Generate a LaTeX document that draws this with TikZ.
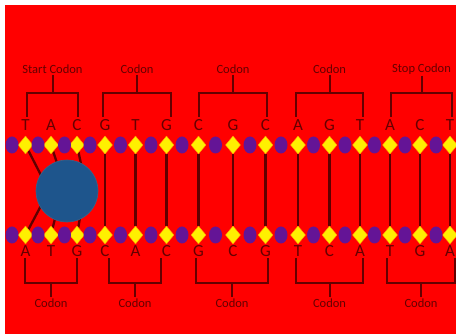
\documentclass[tikz,border=0pt]{standalone}
\usepackage{fontspec}
\setmainfont{Carlito}
\usetikzlibrary{shapes.geometric}
\definecolor{bg}{RGB}{255,0,0}
\definecolor{beadcol}{RGB}{100,20,150}
\definecolor{basecol}{RGB}{255,240,0}
\definecolor{rungcol}{RGB}{95,0,0}
\definecolor{inkcol}{RGB}{100,0,0}
\definecolor{protcol}{RGB}{30,85,140}
\pgfdeclarelayer{paper}
\pgfdeclarelayer{rungs}
\pgfsetlayers{paper,rungs,main}
\begin{document}
\begin{tikzpicture}[x=1pt,y=-1pt,
  sugar/.style={ellipse,fill=beadcol,minimum width=13pt,minimum height=17pt,inner sep=0pt},
  basebox/.style={diamond,fill=basecol,draw=orange!80!yellow,line width=0.4pt,minimum width=15pt,minimum height=18pt,inner sep=0pt},
  letter/.style={text=inkcol,font=\fontsize{17}{17}\selectfont,inner sep=0pt},
  lbl/.style={text=inkcol,font=\fontsize{12.5}{13}\selectfont,inner sep=1pt},
  rung/.style={draw=rungcol,line width=2.3pt},
  bracket/.style={draw=inkcol,line width=2pt}]
\useasboundingbox (0,0) rectangle (456,334);
\begin{pgfonlayer}{paper}
\fill[bg] (5,5) rectangle (456,334);
\end{pgfonlayer}

% protein binding site: slanted rungs meet inside the disc
\coordinate (s1) at (45,183);
\coordinate (s2) at (62,178);
\coordinate (s3) at (84,178);
\coordinate (s4) at (44,200);
\coordinate (s5) at (58,206);
\coordinate (s6) at (82,206);

% bases of both strands with their letters
\foreach \x/\u/\d [count=\i] in {25.5/T/A,51/A/T,77/C/G,105/G/C,135.5/T/A,166.5/G/C,198.5/C/G,233/G/C,265.5/C/G,298/A/T,329.5/G/C,360/T/A,390/A/T,420/C/G,450/T/A}{
  \node[basebox] (t\i) at (\x,145) {};
  \node[letter] (tl\i) at (\x,125) {\u};
  \node[basebox] (b\i) at (\x,235) {};
  \node[letter] (bl\i) at (\x,251) {\d};
}
% sugar beads between the bases
\foreach \x [count=\i] in {12,38,64.5,90,120.5,151,182,215.5,250,281,313.5,345,374.5,405,436}{
  \node[sugar] (ts\i) at (\x,145) {};
  \node[sugar] (bs\i) at (\x,235) {};
}

% rungs between paired bases
\begin{pgfonlayer}{rungs}
\foreach \i in {4,...,15}{ \draw[rung] (t\i) -- (b\i); }
\draw[rung] (t1) -- (s1);
\draw[rung] (t2) -- (s2);
\draw[rung] (t3) -- (s3);
\draw[rung] (b1) -- (s4);
\draw[rung] (b2) -- (s5);
\draw[rung] (b3) -- (s6);
\end{pgfonlayer}

% protein
\node[circle,fill=protcol,draw=protcol!70!gray,line width=0.6pt,minimum size=62pt,inner sep=0pt] (prot) at (67,191) {};

% codon brackets above the top strand
\foreach \l/\r/\t [count=\i] in {27/78/Start Codon,103/171/Codon,199/267/Codon,296/363/Codon,391/452/Stop Codon}{
  \node[lbl] (tc\i) at ({(\l+\r)/2},69) {\t};
  \coordinate (tk\i) at ({(\l+\r)/2},93);
  \draw[bracket] (\l,117) |- (\r,93) -- (\r,117);
  \draw[bracket] (tc\i) -- (tk\i);
}
% codon brackets below the bottom strand
\foreach \l/\r [count=\i] in {25/77,109/161,196/268,296/363,387/455}{
  \node[lbl] (bc\i) at ({(\l+\r)/2},303) {Codon};
  \coordinate (bk\i) at ({(\l+\r)/2},283);
  \draw[bracket] (\l,258) |- (\r,283) -- (\r,258);
  \draw[bracket] (bk\i) -- (bc\i);
}
\end{tikzpicture}
\end{document}
